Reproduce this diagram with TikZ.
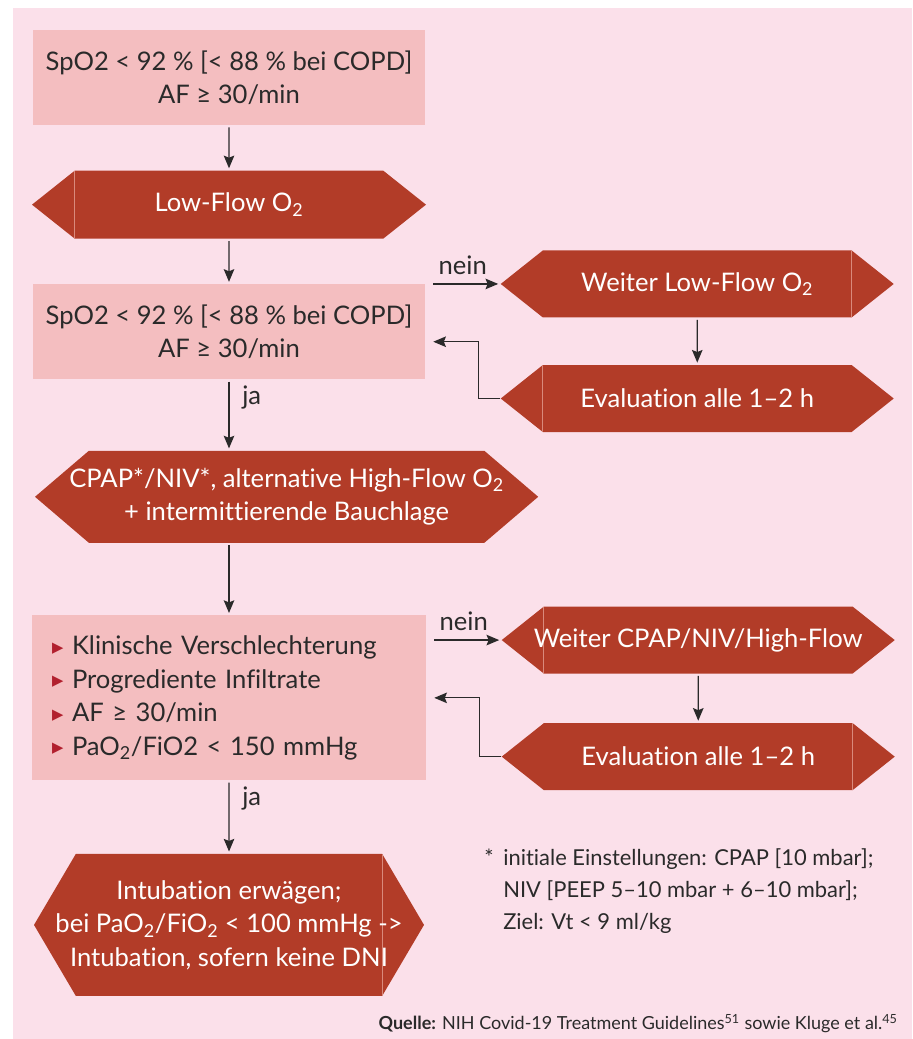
\documentclass[tikz,border=0pt]{standalone}
\usepackage{fontspec}
\setmainfont{Lato}[Ligatures={TeX,NoCommon}]
\newfontfamily\dejavu{DejaVu Sans}
\usepackage{xcolor}
\usetikzlibrary{shapes.symbols, arrows.meta, positioning}
\definecolor{bgpink}{HTML}{FBE0EA}
\definecolor{boxpink}{HTML}{F4BEC0}
\definecolor{rust}{HTML}{B23C28}
\definecolor{seam}{HTML}{D98A7C}
\definecolor{ink}{HTML}{2A2A2A}
\definecolor{bullet}{HTML}{B2202E}
\newcommand\bul{\makebox[0.5cm][l]{\raisebox{0.1em}{\fontsize{10.5}{10}\selectfont\dejavu\color{bullet}▶}}}

\begin{document}
\begin{tikzpicture}[
  node distance=1.125cm and 1.875cm,
  txt/.style={font=\fontsize{18.2}{23.8}\selectfont, text=ink},
  box/.style={txt, fill=boxpink, minimum width=9.8cm, minimum height=2.375cm, align=center, inner sep=0pt},
  listbox/.style={box, align=left, text width=8.85cm, inner xsep=0.5cm, minimum height=4.125cm},
  hexbox/.style={txt, shape=signal, signal from=nowhere, signal to=east and west, signal pointer angle=77, fill=rust, text=white, minimum width=9.825cm, minimum height=1.675cm, align=center, inner xsep=-1cm, inner ysep=0pt},
  seamline/.style={draw=seam, line width=0.5pt},
  seam left/.style={path picture={\draw[seamline] ([xshift=1.05cm]path picture bounding box.south west) -- ([xshift=1.05cm]path picture bounding box.north west);}},
  seam right/.style={path picture={\draw[seamline] ([xshift=-1.05cm]path picture bounding box.south east) -- ([xshift=-1.05cm]path picture bounding box.north east);}},
  arr/.style={-{Stealth[length=9pt, width=7.5pt, inset=1.5pt]}, line width=0.9pt, draw=ink, shorten <=1.5pt, shorten >=1.5pt},
  lbl/.style={txt, inner sep=2pt},
  note/.style={font=\fontsize{15.6}{23}\selectfont, text=ink, align=left, inner sep=0pt},
]
\useasboundingbox (0,0) rectangle (22.8,-25.975);
\fill[bgpink] (0.325,-0.2) rectangle (22.8,-25.975);

% linke Spalte
\node[box] (start) at (5.725,-1.94) {SpO2 < 92 \% [< 88 \% bei COPD]\\AF ≥ 30/min};
\node[hexbox, seam left, below=of start, minimum width=9.85cm, minimum height=1.7cm] (lowflow) {Low-Flow O\textsubscript{2}};
\node[box, below=of lowflow] (check1) {SpO2 < 92 \% [< 88 \% bei COPD]\\AF ≥ 30/min};
\node[hexbox, below=1.775cm of check1, xshift=1.44cm, minimum width=12.58cm, minimum height=2.3cm, signal pointer angle=81] (cpap) {CPAP*/NIV*, alternative High-Flow O\textsubscript{2}\\+ intermittierende Bauchlage};
\node[listbox, below=1.8cm of cpap, xshift=-1.44cm] (check2) {\bul Klinische Verschlechterung\\\bul Progrediente Infiltrate\\\bul AF ≥ 30/min\\\bul PaO\textsubscript{2}/FiO2 < 150 mmHg};
\node[hexbox, seam right, below=1.825cm of check2, minimum width=9.75cm, minimum height=3.55cm, signal pointer angle=119] (intub) {Intubation erwägen;\\bei PaO\textsubscript{2}/FiO\textsubscript{2} < 100 mmHg ->\\Intubation, sofern keine DNI};

% rechte Spalte
\node[hexbox, seam right, right=of check1.north east] (weiter1) {Weiter Low-Flow O\textsubscript{2}};
\node[hexbox, seam left, below=1.175cm of weiter1] (eval1) {Evaluation alle 1--2 h};
\node[hexbox, seam left, right=of check2.north east, yshift=-0.625cm] (weiter2) {Weiter CPAP/NIV/High-Flow};
\node[hexbox, seam right, below=1.225cm of weiter2] (eval2) {Evaluation alle 1--2 h};

\node[note, anchor=north west] (fussnote) at (12.1,-21.2) {\makebox[0.475cm][l]{*}initiale Einstellungen: CPAP [10 mbar];\\\hspace*{0.475cm}NIV [PEEP 5--10 mbar + 6--10 mbar];\\\hspace*{0.475cm}Ziel: Vt < 9 ml/kg};
\node[font=\fontsize{12.8}{14}\selectfont, text=ink, anchor=east, inner sep=0pt] (quelle) at (22.45,-25.6) {\textbf{Quelle:} NIH Covid-19 Treatment Guidelines\textsuperscript{51} sowie Kluge et al.\textsuperscript{45}};

% Pfeile
\draw[arr] (start) -- (lowflow);
\draw[arr] (lowflow) -- (check1);
\draw[arr] (check1.south) -- (check1.south |- cpap.north) node[lbl, pos=0.25, right=7pt] {ja};
\draw[arr] (check2.north |- cpap.south) -- (check2.north);
\draw[arr] (check2) -- (intub) node[lbl, pos=0.25, right=7pt] {ja};

\draw[arr, shorten <=0.2cm] (check1.north east) -- (weiter1.west) node[lbl, midway, above=4pt] {nein};
\draw[arr] (weiter1) -- (eval1);
\draw[arr, shorten <=0pt, shorten >=0.2cm] (eval1.west) -- ++(-0.55,0) |- ([yshift=-0.25cm]check1.east);

\draw[arr, shorten <=0.2cm] (weiter2.west -| check2.east) -- (weiter2.west) node[lbl, midway, above=4pt] {nein};
\draw[arr] (weiter2) -- (eval2);
\draw[arr, shorten <=0pt, shorten >=0.2cm] (eval2.west) -- ++(-0.55,0) |- (check2.east);

\end{tikzpicture}
\end{document}
